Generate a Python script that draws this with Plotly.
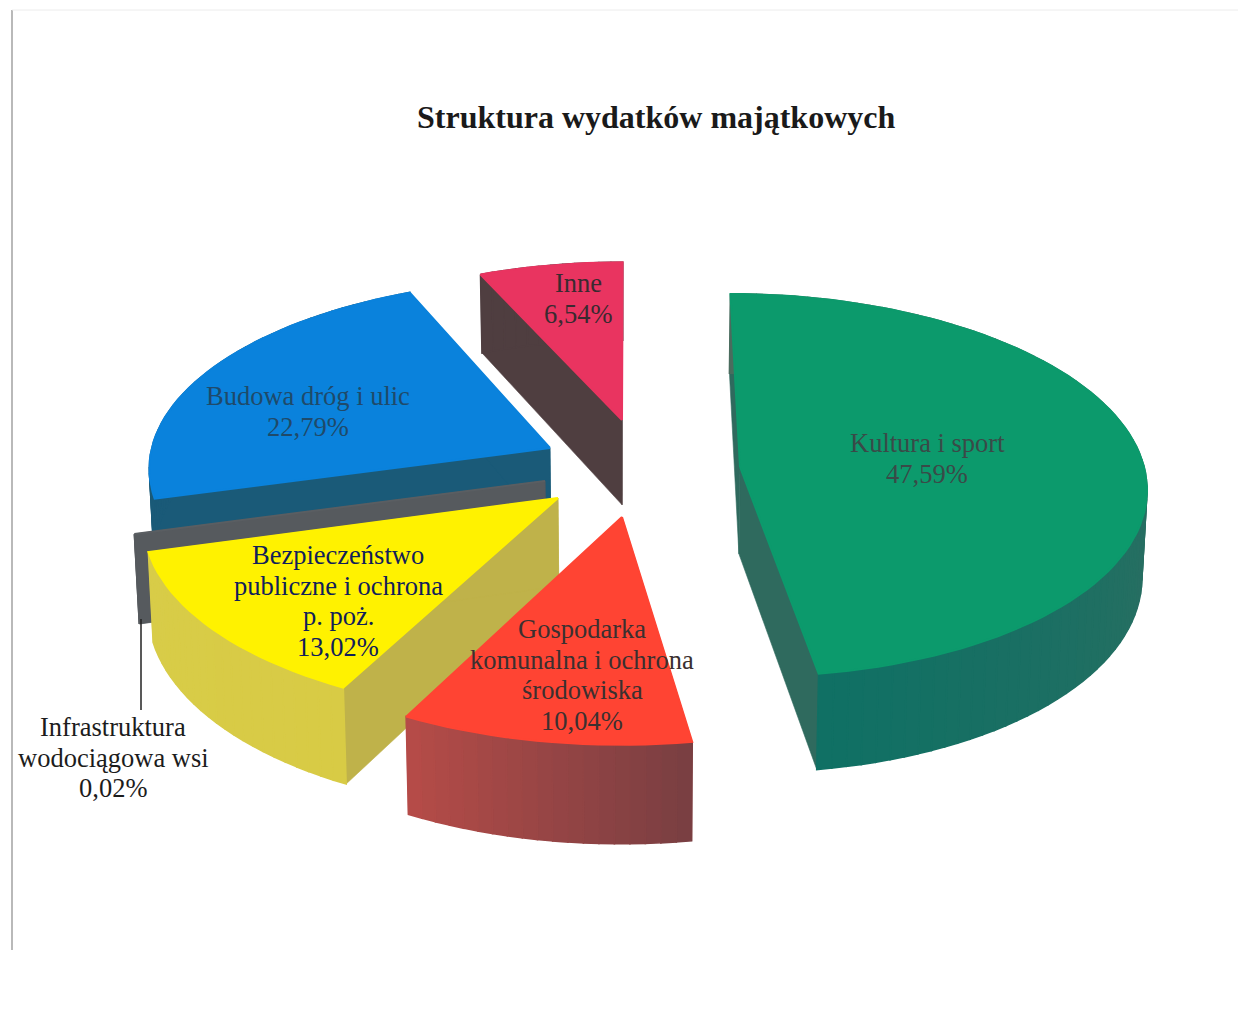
import math
import plotly.graph_objects as go

# ---- data
categories = ["Kultura i sport", "Gospodarka komunalna i ochrona środowiska",
              "Bezpieczeństwo publiczne i ochrona p. poż.", "Infrastruktura wodociągowa wsi",
              "Budowa dróg i ulic", "Inne"]
values = [47.59, 10.04, 13.02, 0.02, 22.79, 6.54]
value_labels = ["47,59%", "10,04%", "13,02%", "0,02%", "22,79%", "6,54%"]
title_text = "Struktura wydatków majątkowych"

# ---- styling / layout
W, H = 1246, 1029
PAGE_MARGIN = 8
top_colors = ["#0C9A6C", "#FF4433", "#FFF200", "#5A5E62", "#0A82DC", "#E93460"]
side_colors = ["#2F6A5E", "#B04A48", "#BFB24A", "#565A5E", "#1A5A78", "#4F3E40"]
rim_from = ["#4A6C5E", "#7A3F42", "#D8CB45", "#565A5E", "#1A5A78", "#4F3E40"]  # clockwise start of the arc
rim_to = ["#0F7064", "#B84C48", "#D8CC48", "#565A5E", "#1A5A78", "#4F3E40"]    # clockwise end of the arc
apex_px = [(740, 467), (622, 517), (558, 498), (545, 481), (550, 448), (622, 420)]
radius_scale = [(0.975, 1.0), (1.0, 1.03), (0.98, 1.0), (0.99, 1.0), (0.97, 0.99), (0.95, 0.95)]
draw_order = [5, 4, 3, 2, 1, 0]
label_px = {0: (927, 443), 1: (582, 629), 2: (338, 555), 3: (113, 727), 4: (308, 396), 5: (578, 283)}
label_color = {0: "#3a4a48", 1: "#3b3030", 2: "#10205a", 3: "#1c1c1c", 4: "#1f4a6a", 5: "#3a2a30"}
label_lines = {
    0: ["Kultura i sport"],
    1: ["Gospodarka", "komunalna i ochrona", "środowiska"],
    2: ["Bezpieczeństwo", "publiczne i ochrona", "p. poż."],
    3: ["Infrastruktura", "wodociągowa wsi"],
    4: ["Budowa dróg i ulic"],
    5: ["Inne"],
}
LINE_GAP = 30.6
VX, VY, RX, RY, K, DEPTH, SHRINK = 630, 470, 415, 190, 0.095, 87, 0.99


def to_world(px, py):
    q = (VY - py) / RY
    v = q / (1 - K * q)
    u = (px - VX) / RX * (1 + K * v)
    return u, v


def project(u, v, low=False):
    w = 1 + K * v
    sx = VX + u / w * RX
    sy = VY - v / w * RY
    if low:
        sx = VX + (sx - VX) * SHRINK
        sy += DEPTH / w
    return sx, sy


def hex2rgb(c):
    return tuple(int(c[i:i + 2], 16) for i in (1, 3, 5))


def mix(a, b, t):
    ra, rb = hex2rgb(a), hex2rgb(b)
    return "#%02x%02x%02x" % tuple(round(x + (y - x) * t) for x, y in zip(ra, rb))


fig = go.Figure()


def poly(points, color, lw=0.6):
    xs = [p[0] for p in points] + [points[0][0]]
    ys = [p[1] for p in points] + [points[0][1]]
    fig.add_trace(go.Scatter(x=xs, y=ys, mode="lines", fill="toself", fillcolor=color,
                             line=dict(color=color, width=lw), hoverinfo="skip", showlegend=False))


total = sum(values)
starts, acc = [], 0.0
for val in values:
    starts.append(acc)
    acc += val / total * 360

for i in draw_order:
    a0 = starts[i]
    a1 = a0 + values[i] / total * 360
    ou, ov = to_world(*apex_px[i])
    su, sv = radius_scale[i]
    n = max(2, int((a1 - a0) / 2) + 1)
    angs = [math.radians(a0 + (a1 - a0) * j / n) for j in range(n + 1)]
    world = [(ou + su * math.sin(t), ov + sv * math.cos(t)) for t in angs]
    top = [project(*p) for p in world]
    low = [project(*p, True) for p in world]
    ap_t, ap_l = project(ou, ov), project(ou, ov, True)
    poly([ap_t, top[0], low[0], ap_l], side_colors[i])
    poly([ap_t, top[-1], low[-1], ap_l], side_colors[i])
    for j in range(n):
        poly([top[j], top[j + 1], low[j + 1], low[j]], mix(rim_from[i], rim_to[i], j / n), lw=1.6)
    poly([ap_t] + top, top_colors[i], lw=2)

# leader line of the smallest slice
fig.add_shape(type="line", x0=141, x1=141, y0=619, y1=710, line=dict(color="#222222", width=1.5))
# page frame of the scan
fig.add_shape(type="line", x0=12, x1=12, y0=10, y1=950, line=dict(color="#8a8a8a", width=1.2))
fig.add_shape(type="line", x0=12, x1=1238, y0=10, y1=10, line=dict(color="#ececec", width=1))

for i, lines in label_lines.items():
    for k, line in enumerate(lines + [value_labels[i]]):
        fig.add_annotation(x=label_px[i][0], y=label_px[i][1] + k * LINE_GAP, xref="x", yref="y",
                           text=line, showarrow=False,
                           font=dict(family="Liberation Serif", size=26.5, color=label_color[i]))

fig.add_annotation(x=656, y=117, xref="x", yref="y", text="<b>%s</b>" % title_text, showarrow=False,
                   font=dict(family="Liberation Serif", size=32, color="#1a1a1a"))

fig.update_layout(width=W - 2 * PAGE_MARGIN, height=H - 2 * PAGE_MARGIN, autosize=False,
                  margin=dict(l=0, r=0, t=0, b=0),
                  paper_bgcolor="#ffffff", plot_bgcolor="#ffffff", showlegend=False,
                  xaxis=dict(range=[PAGE_MARGIN, W - PAGE_MARGIN], visible=False, fixedrange=True),
                  yaxis=dict(range=[H - PAGE_MARGIN, PAGE_MARGIN], visible=False, fixedrange=True))
fig.write_html("out.html", config=dict(displayModeBar=False))
